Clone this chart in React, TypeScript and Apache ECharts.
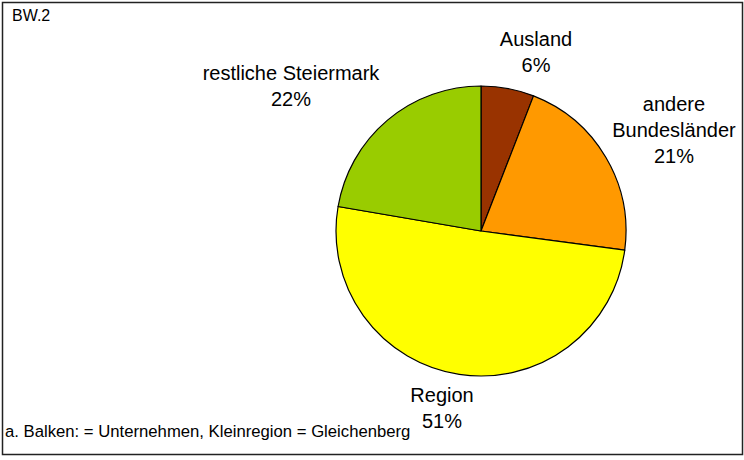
import React, { useEffect, useRef } from "react";
import * as echarts from "echarts";

const categories = ["Ausland", "andere\nBundesländer", "Region", "restliche Steiermark"];
const values = [5.9, 21.2, 50.6, 22.3];
const colors = ["#993300", "#FF9900", "#FFFF00", "#99CC00"];
const labelPositions = [
  [536, 52],
  [674, 130],
  [442, 408],
  [291, 86],
];
const titleText = "BW.2";
const footnote = "a. Balken: = Unternehmen, Kleinregion = Gleichenberg";

export default function App() {
  const ref = useRef<HTMLDivElement>(null);
  useEffect(() => {
    if (!ref.current) return;
    const chart = echarts.init(ref.current, undefined, { renderer: "svg" });
    const font = "'Liberation Sans', Arial, sans-serif";
    chart.setOption({
      animation: false,
      backgroundColor: "#ffffff",
      graphic: [
        {
          type: "rect",
          shape: { x: 2.5, y: 2.5, width: 740, height: 452 },
          style: { fill: "none", stroke: "#222", lineWidth: 1.5 },
          silent: true,
        },
        {
          type: "text",
          x: 12,
          y: 15,
          style: {
            text: titleText,
            font: `16px ${font}`,
            fill: "#000",
            textVerticalAlign: "middle",
          },
        },
        {
          type: "text",
          x: 5,
          y: 431,
          style: {
            text: footnote,
            font: `16.7px ${font}`,
            fill: "#000",
            textVerticalAlign: "middle",
          },
        },
      ],
      series: [
        {
          type: "pie",
          center: [481, 231],
          radius: 145,
          startAngle: 90,
          clockwise: true,
          data: categories.map((c, i) => ({
            name: c,
            value: values[i],
            itemStyle: { color: colors[i] },
          })),
          itemStyle: { borderColor: "#000", borderWidth: 1.2 },
          label: {
            show: true,
            position: "outside",
            formatter: (p: any) => `${p.name}\n${Math.round(p.percent)}%`,
            fontFamily: font,
            fontSize: 20,
            lineHeight: 26,
            color: "#000",
            align: "center",
            overflow: "none",
          },
          labelLine: { show: false },
          labelLayout: (params: any) => {
            const pos = labelPositions[params.dataIndex];
            return {
              x: pos[0],
              y: pos[1],
              align: "center",
              verticalAlign: "middle",
            };
          },
          emphasis: { disabled: true },
        },
      ],
    });
    return () => chart.dispose();
  }, []);
  return <div ref={ref} style={{ width: 744, height: 460, position: "absolute", left: 0, top: 0 }} />;
}
